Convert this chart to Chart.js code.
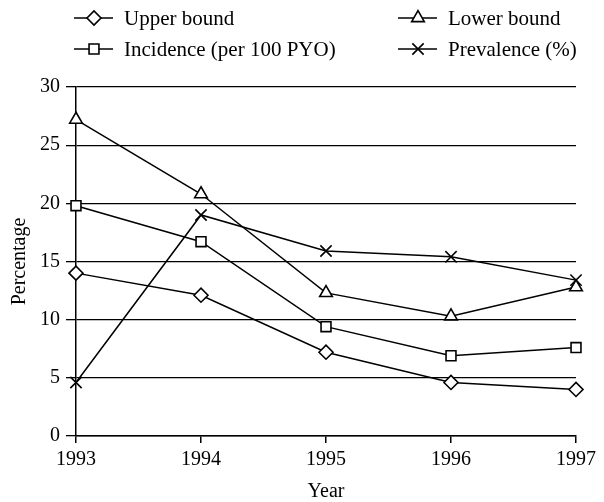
<!DOCTYPE html>
<html>
<head>
<meta charset="utf-8">
<script src="https://cdn.jsdelivr.net/npm/chart.js@4/dist/chart.umd.min.js"></script>
<style>
  body { margin: 0; background: #fff; }
  #wrap { width: 604px; height: 502px; }
</style>
</head>
<body>
<div id="wrap"><canvas id="grafica"></canvas></div>
<script>
// datos
var years = ['1993', '1994', '1995', '1996', '1997'];
var upperBound = [14.0, 12.1, 7.2, 4.6, 4.0];
var lowerBound = [27.2, 20.8, 12.3, 10.3, 12.8];
var incidence = [19.8, 16.7, 9.4, 6.9, 7.6];
var prevalence = [4.6, 19.0, 15.9, 15.4, 13.4];
var yTicks = [0, 5, 10, 15, 20, 25, 30];

var fuente = 'Liberation Serif, Times New Roman, serif';

function serie(label, data, style, radius) {
  return {
    label: label,
    data: data,
    borderColor: '#000',
    borderWidth: 1.5,
    backgroundColor: '#fff',
    pointStyle: style,
    pointRadius: radius,
    pointBorderWidth: 1.6,
    pointBorderColor: '#000',
    pointBackgroundColor: '#fff',
    tension: 0
  };
}

// leyenda en dos columnas dibujada a mano
var leyenda = {
  id: 'leyenda',
  afterDraw: function(chart) {
    var ctx = chart.ctx;
    var cols = [74, 398];
    var rows = [18, 49];
    ctx.save();
    chart.data.datasets.forEach(function(ds, i) {
      var x = cols[i % 2];
      var y = rows[Math.floor(i / 2)];
      ctx.strokeStyle = '#000';
      ctx.lineWidth = 1.5;
      ctx.beginPath();
      ctx.moveTo(x, y);
      ctx.lineTo(x + 39, y);
      ctx.stroke();
      ctx.fillStyle = '#fff';
      ctx.lineWidth = 1.6;
      Chart.helpers.drawPoint(ctx, { pointStyle: ds.pointStyle, radius: ds.pointRadius, rotation: 0, borderWidth: 1.6 }, x + 20, y);
      ctx.fillStyle = '#000';
      ctx.font = '21px ' + fuente;
      ctx.textBaseline = 'middle';
      ctx.fillText(ds.label, x + 50, y + 1);
    });
    ctx.restore();
  }
};

var ctx1 = document.getElementById('grafica').getContext('2d');
var miGrafica = new Chart(ctx1, {
  type: 'line',
  data: {
    labels: years,
    datasets: [
      serie('Upper bound', upperBound, 'rectRot', 7),
      serie('Lower bound', lowerBound, 'triangle', 7.3),
      serie('Incidence (per 100 PYO)', incidence, 'rect', 7),
      serie('Prevalence (%)', prevalence, 'crossRot', 8)
    ]
  },
  options: {
    responsive: true,
    maintainAspectRatio: false,
    animation: false,
    layout: { padding: { top: 87, right: 28, left: 4, bottom: 0 } },
    plugins: {
      legend: { display: false },
      tooltip: { enabled: false }
    },
    scales: {
      x: {
        offset: false,
        grid: { drawOnChartArea: false, drawTicks: true, tickLength: 7, color: '#000', lineWidth: 1.5 },
        border: { color: '#000', width: 1.5 },
        ticks: { color: '#000', font: { family: fuente, size: 20 }, padding: 5, maxRotation: 0 },
        title: { display: true, text: 'Year', color: '#000', font: { family: fuente, size: 20, lineHeight: 1 }, padding: { top: 5, bottom: 0 } }
      },
      y: {
        min: 0,
        max: 30,
        afterBuildTicks: function(axis) {
          axis.ticks = yTicks.map(function(v) { return { value: v }; });
        },
        grid: { color: '#000', lineWidth: 1.3, tickLength: 10 },
        border: { color: '#000', width: 1.5 },
        ticks: { color: '#000', font: { family: fuente, size: 20 }, padding: 6 },
        title: { display: true, text: 'Percentage', color: '#000', font: { family: fuente, size: 20 }, padding: { top: 4, bottom: 2 } }
      }
    }
  },
  plugins: [leyenda]
});
</script>
</body>
</html>
